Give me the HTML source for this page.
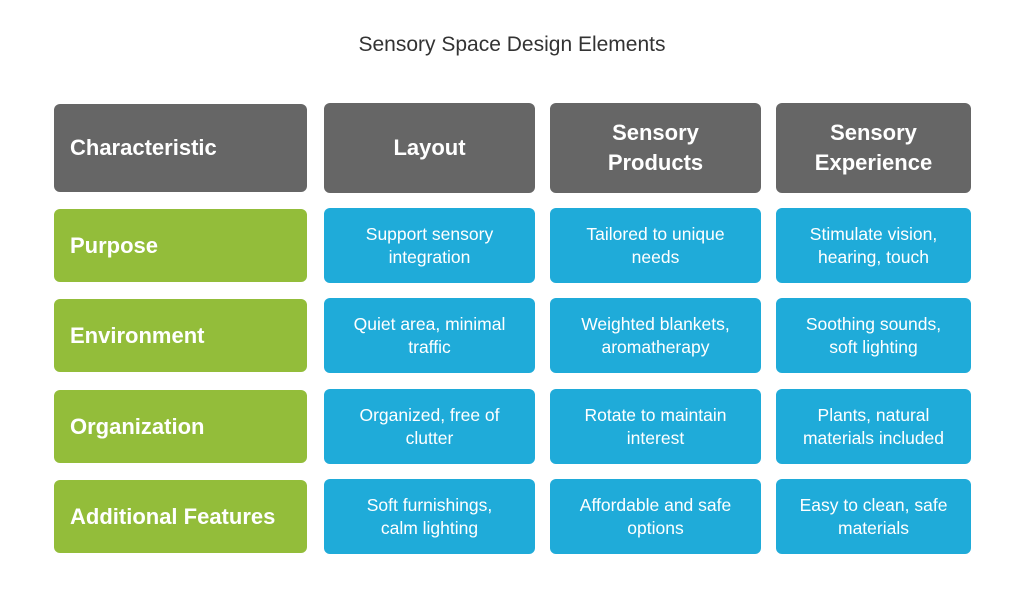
<!DOCTYPE html>
<html><head><style>
body{margin:0;width:1024px;height:602px;background:#fff;font-family:"Liberation Sans",sans-serif;position:relative;overflow:hidden}
.t{position:absolute;top:33px;left:0;width:1024px;text-align:center;font-size:21px;color:#333}
.b{position:absolute;border-radius:6px;display:flex;align-items:center;justify-content:center;text-align:center;color:#fff;box-sizing:border-box}
.h{background:#666;font-weight:bold;font-size:22px;line-height:30px}
.g{background:#93bd3a;font-weight:bold;font-size:22px;justify-content:flex-start;padding-left:16px}
.c{background:#1fabd9;font-size:17.5px;line-height:23px}
</style></head><body>
<div class="t">Sensory Space Design Elements</div>
<div class="b h" style="left:54px;top:104px;width:253px;height:88px;justify-content:flex-start;padding-left:16px">Characteristic</div>
<div class="b h" style="left:324px;top:103px;width:211px;height:90px">Layout</div>
<div class="b h" style="left:550px;top:103px;width:211px;height:90px">Sensory<br>Products</div>
<div class="b h" style="left:776px;top:103px;width:195px;height:90px">Sensory<br>Experience</div>

<div class="b g" style="left:54px;top:209px;width:253px;height:73px">Purpose</div>
<div class="b c" style="left:324px;top:208px;width:211px;height:75px">Support sensory<br>integration</div>
<div class="b c" style="left:550px;top:208px;width:211px;height:75px">Tailored to unique<br>needs</div>
<div class="b c" style="left:776px;top:208px;width:195px;height:75px">Stimulate vision,<br>hearing, touch</div>

<div class="b g" style="left:54px;top:299px;width:253px;height:73px">Environment</div>
<div class="b c" style="left:324px;top:298px;width:211px;height:75px">Quiet area, minimal<br>traffic</div>
<div class="b c" style="left:550px;top:298px;width:211px;height:75px">Weighted blankets,<br>aromatherapy</div>
<div class="b c" style="left:776px;top:298px;width:195px;height:75px">Soothing sounds,<br>soft lighting</div>

<div class="b g" style="left:54px;top:390px;width:253px;height:73px">Organization</div>
<div class="b c" style="left:324px;top:389px;width:211px;height:75px">Organized, free of<br>clutter</div>
<div class="b c" style="left:550px;top:389px;width:211px;height:75px">Rotate to maintain<br>interest</div>
<div class="b c" style="left:776px;top:389px;width:195px;height:75px">Plants, natural<br>materials included</div>

<div class="b g" style="left:54px;top:480px;width:253px;height:73px">Additional Features</div>
<div class="b c" style="left:324px;top:479px;width:211px;height:75px">Soft furnishings,<br>calm lighting</div>
<div class="b c" style="left:550px;top:479px;width:211px;height:75px">Affordable and safe<br>options</div>
<div class="b c" style="left:776px;top:479px;width:195px;height:75px">Easy to clean, safe<br>materials</div>
</body></html>
